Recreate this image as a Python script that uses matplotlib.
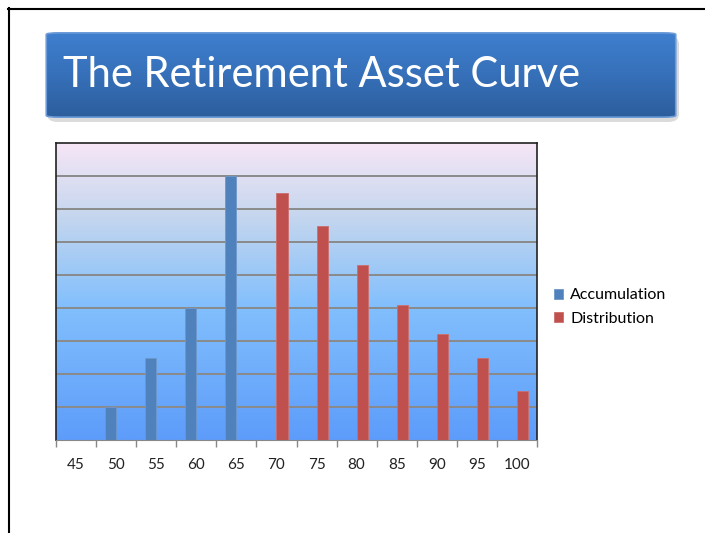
import numpy as np
import matplotlib
matplotlib.use("Agg")
import matplotlib.pyplot as plt
from matplotlib.patches import FancyBboxPatch
from matplotlib.lines import Line2D
from matplotlib.colors import LinearSegmentedColormap

ages = ["45", "50", "55", "60", "65", "70", "75", "80", "85", "90", "95", "100"]
accumulation = [0, 1.0, 2.5, 4.0, 8.0, 0, 0, 0, 0, 0, 0, 0]
distribution = [0, 0, 0, 0, 0, 7.5, 6.5, 5.3, 4.1, 3.2, 2.5, 1.5]
series_names = ["Accumulation", "Distribution"]
title = "The Retirement Asset Curve"

W, H = 705, 533
fig = plt.figure(figsize=(W / 100, H / 100), dpi=100)
fig.patch.set_facecolor("white")

def fx(x):
    return x / W

def fy(y):
    return 1 - y / H

FONT = "Lato"

# slide border
fig.add_artist(Line2D([fx(8), fx(705)], [fy(9), fy(9)], color="black", lw=1.5))
fig.add_artist(Line2D([fx(9), fx(9)], [fy(8), fy(533)], color="black", lw=1.5))

# title banner
bx0, bx1, by0, by1 = 45, 677, 32, 118
shadow = FancyBboxPatch((fx(bx0 + 2), fy(by1 + 4)), fx(bx1 - bx0), (by1 - by0) / H,
                        boxstyle="round,pad=0,rounding_size=0.015",
                        transform=fig.transFigure, facecolor="#c4c4c4", edgecolor="none",
                        alpha=0.6, zorder=1)
fig.add_artist(shadow)
bax = fig.add_axes([fx(bx0), fy(by1), fx(bx1 - bx0), (by1 - by0) / H], zorder=2)
bax.set_xlim(0, 1)
bax.set_ylim(0, 1)
bax.axis("off")
bcmap = LinearSegmentedColormap.from_list("b", ["#2c5d9c", "#3670b9", "#3f7fcf"])
grad = np.linspace(0, 1, 256).reshape(-1, 1)
im = bax.imshow(grad, extent=[0, 1, 0, 1], origin="lower", aspect="auto", cmap=bcmap)
clip = FancyBboxPatch((0.002, 0.01), 0.996, 0.98, boxstyle="round,pad=0,rounding_size=0.02",
                      transform=bax.transAxes, facecolor="none", edgecolor="#6a9ad8", lw=1.2)
bax.add_patch(clip)
im.set_clip_path(clip)
bax.text(fx(63 - bx0) / fx(bx1 - bx0), 0.5, title, transform=bax.transAxes, color="white",
         fontsize=30, family=FONT, va="center", ha="left")

# chart
px0, px1, py0, py1 = 56, 537, 143, 440
ax = fig.add_axes([fx(px0), fy(py1), fx(px1 - px0), (py1 - py0) / H], zorder=3)
n = len(ages)
x = np.arange(n)
ax.set_xlim(-0.5, n - 0.5)
ax.set_ylim(0, 9)

gcmap = LinearSegmentedColormap.from_list(
    "g", [(0, "#5d9cfa"), (0.45, "#82bffd"), (0.75, "#c4d6ee"), (1, "#f6e6f6")])
ax.imshow(grad, extent=[-0.5, n - 0.5, 0, 9], origin="lower", aspect="auto",
          cmap=gcmap, zorder=0)

for yv in range(1, 9):
    ax.axhline(yv, color="#8a8a8a", lw=1.4, zorder=1)

w = 1 / 3.5
ax.bar(x - w / 2, accumulation, width=w, color="#4f81bd", edgecolor="#6f97c9", lw=0.6,
       zorder=2, label=series_names[0])
ax.bar(x + w / 2, distribution, width=w, color="#c0504d", edgecolor="#cc6e6c", lw=0.6,
       zorder=2, label=series_names[1])

ax.set_yticks([])
ax.set_xticks(x)
ax.set_xticklabels(ages, fontsize=11, family=FONT, color="#222222")
ax.tick_params(axis="x", which="major", length=0, pad=13)
ax.set_xticks(np.arange(-0.5, n, 1), minor=True)
ax.tick_params(axis="x", which="minor", length=5, color="#888888", width=1)
for s in ["top", "right", "left"]:
    ax.spines[s].set_color("#222222")
    ax.spines[s].set_linewidth(1.2)
ax.spines["bottom"].set_color("#888888")

leg = fig.legend(handles=ax.patches[:1] + ax.patches[n:n + 1], labels=series_names,
                 loc="upper left", bbox_to_anchor=(fx(540), fy(274)), frameon=False,
                 prop={"family": FONT, "size": 11.5}, handlelength=0.55,
                 handleheight=0.55, handletextpad=0.45, labelspacing=0.6)

fig.savefig("out.png", dpi=100)
